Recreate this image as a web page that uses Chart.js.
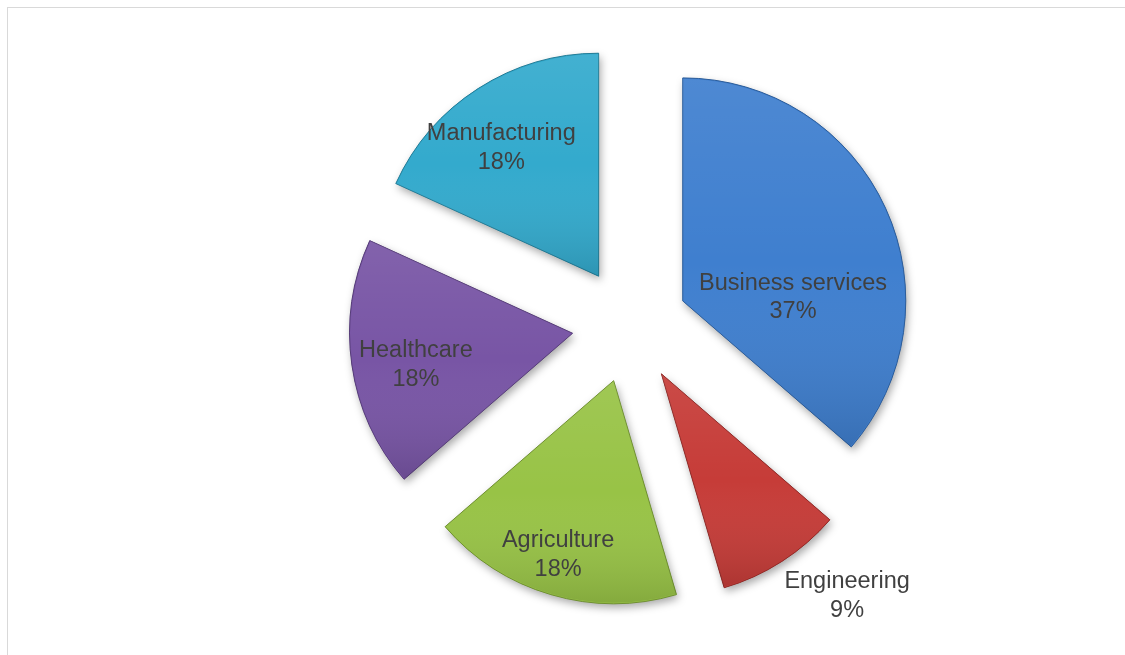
<!DOCTYPE html>
<html>
<head>
<meta charset="utf-8">
<script src="https://cdn.jsdelivr.net/npm/chart.js@4/dist/chart.umd.min.js"></script>
<style>
  html, body { margin: 0; padding: 0; background: #fff; overflow: hidden; }
  #frame { position: absolute; left: 7px; top: 7px; width: 1140px; height: 670px; border: 1px solid #d9d9d9; }
  #wrap { position: absolute; left: 0; top: 0; width: 1125px; height: 655px; }
</style>
</head>
<body>
<div id="frame"></div>
<div id="wrap"><canvas id="pie"></canvas></div>
<script>
const sectors = ['Business services', 'Engineering', 'Agriculture', 'Healthcare', 'Manufacturing'];
const shares = [36.4, 9.1, 18.2, 18.2, 18.2];
const shareLabels = ['37%', '9%', '18%', '18%', '18%'];
const sectorColors = ['#3f7fcf', '#c63c38', '#98c346', '#7855a5', '#33aacd'];
const edgeColors = ['#2d5d99', '#8e2b28', '#6f8f32', '#563d78', '#247c96'];

function slicePath(ctx, cx, cy, r, a0, a1) {
    ctx.beginPath();
    ctx.moveTo(cx, cy);
    ctx.arc(cx, cy, r, a0, a1);
    ctx.closePath();
}

// pulls each slice out from the centre and adds shadow + light sheen
const explodePlugin = {
    id: 'explode',
    beforeDatasetDraw(chart, args, opts) {
        const ctx = chart.ctx;
        args.meta.data.forEach(arc => {
            const mid = (arc.startAngle + arc.endAngle) / 2;
            const cx = arc.x + Math.cos(mid) * opts.distance;
            const cy = arc.y + Math.sin(mid) * opts.distance;
            const r = arc.outerRadius;

            // drop shadow
            ctx.save();
            ctx.shadowColor = 'rgba(0,0,0,0.35)';
            ctx.shadowBlur = 9;
            ctx.shadowOffsetX = 2;
            ctx.shadowOffsetY = 4;
            slicePath(ctx, cx, cy, r, arc.startAngle, arc.endAngle);
            ctx.fillStyle = arc.options.backgroundColor;
            ctx.fill();
            ctx.restore();

            ctx.save();
            ctx.translate(cx - arc.x, cy - arc.y);
            arc.draw(ctx);
            ctx.restore();

            // vertical sheen over the slice
            let top = cy, bottom = cy;
            for (let k = 0; k <= 40; k++) {
                const a = arc.startAngle + (arc.endAngle - arc.startAngle) * k / 40;
                const y = cy + Math.sin(a) * r;
                top = Math.min(top, y);
                bottom = Math.max(bottom, y);
            }
            const g = ctx.createLinearGradient(0, top, 0, bottom);
            g.addColorStop(0, 'rgba(255,255,255,0.08)');
            g.addColorStop(0.5, 'rgba(255,255,255,0)');
            g.addColorStop(1, 'rgba(0,0,0,0.13)');
            ctx.save();
            slicePath(ctx, cx, cy, r - 1, arc.startAngle, arc.endAngle);
            ctx.fillStyle = g;
            ctx.fill();
            ctx.restore();
        });
        return false;
    },
    afterDatasetsDraw(chart, args, opts) {
        const ctx = chart.ctx;
        const meta = chart.getDatasetMeta(0);
        ctx.save();
        ctx.font = opts.font;
        ctx.fillStyle = opts.color;
        ctx.textAlign = 'center';
        ctx.textBaseline = 'middle';
        meta.data.forEach((arc, i) => {
            const mid = (arc.startAngle + arc.endAngle) / 2;
            const cx = arc.x + Math.cos(mid) * opts.distance;
            const cy = arc.y + Math.sin(mid) * opts.distance;
            const [frac, turn] = opts.placement[i];
            const a = mid + turn * Math.PI / 180;
            const x = cx + Math.cos(a) * arc.outerRadius * frac;
            const y = cy + Math.sin(a) * arc.outerRadius * frac + 1;
            ctx.fillText(chart.data.labels[i], x, y - opts.lineGap / 2);
            ctx.fillText(shareLabels[i], x, y + opts.lineGap / 2);
        });
        ctx.restore();
    }
};

const pieChart = new Chart(document.getElementById('pie'), {
    type: 'pie',
    data: {
        labels: sectors,
        datasets: [{
            data: shares,
            backgroundColor: sectorColors,
            borderColor: edgeColors,
            borderWidth: 1
        }]
    },
    options: {
        responsive: true,
        maintainAspectRatio: false,
        animation: false,
        radius: 223,
        layout: { padding: { left: 135, right: 0, top: 0, bottom: 5 } },
        plugins: {
            legend: { display: false },
            tooltip: { enabled: false },
            explode: {
                distance: 58,
                font: '23.5px "Liberation Sans", Arial, sans-serif',
                color: '#404040',
                lineGap: 28.5,
                placement: [[0.495, 22.2], [1.295, -7.3], [0.817, 1.4], [0.716, -2.9], [0.725, -4.3]]
            }
        }
    },
    plugins: [explodePlugin]
});
</script>
</body>
</html>
